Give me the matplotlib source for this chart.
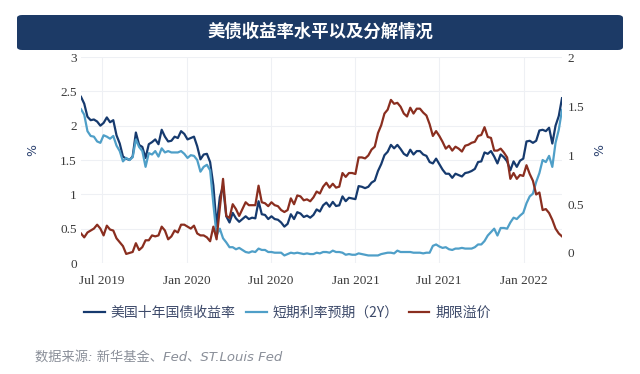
import matplotlib.pyplot as plt
import matplotlib.dates as mdates
from matplotlib.patches import FancyBboxPatch
import pandas as pd
import numpy as np

# weekly (Friday) observations, May 2019 - Mar 2022
weeks = pd.date_range("2019-05-17", "2022-03-25", freq="W-FRI")

# 美国十年国债收益率 (left axis, %)
ust_10y = [
    # 2019
    2.42, 2.32, 2.13, 2.08, 2.09, 2.06, 2.00, 2.04, 2.12, 2.05, 2.08,
    1.86, 1.74, 1.55, 1.52, 1.50, 1.55, 1.90, 1.72, 1.69, 1.53, 1.73,
    1.76, 1.80, 1.73, 1.94, 1.84, 1.77, 1.78, 1.84, 1.82, 1.92, 1.88,
    # 2020
    1.80, 1.82, 1.84, 1.70, 1.51, 1.58, 1.59, 1.47, 1.13, 0.54, 0.96,
    1.12, 0.68, 0.59, 0.73, 0.65, 0.60, 0.64, 0.68, 0.64, 0.66, 0.65,
    0.90, 0.71, 0.70, 0.64, 0.68, 0.64, 0.63, 0.59, 0.53, 0.57, 0.71,
    0.64, 0.74, 0.72, 0.67, 0.69, 0.66, 0.70, 0.78, 0.75, 0.84, 0.88,
    0.82, 0.89, 0.83, 0.84, 0.97, 0.90, 0.95, 0.94,
    # 2021
    0.93, 1.12, 1.11, 1.09, 1.11, 1.17, 1.20, 1.34, 1.44, 1.57, 1.62,
    1.72, 1.67, 1.72, 1.66, 1.59, 1.56, 1.65, 1.58, 1.63, 1.63, 1.58,
    1.56, 1.47, 1.45, 1.52, 1.44, 1.36, 1.30, 1.30, 1.24, 1.30, 1.28,
    1.26, 1.31, 1.32, 1.34, 1.37, 1.47, 1.48, 1.61, 1.59, 1.63, 1.55,
    1.45, 1.58, 1.54, 1.48, 1.35, 1.48, 1.40, 1.49, 1.52,
    # 2022
    1.77, 1.78, 1.75, 1.78, 1.93, 1.94, 1.92, 1.97, 1.74, 2.00, 2.14, 2.40,
]

# 短期利率预期（2Y） (left axis, %)
short_rate_2y = [
    # 2019
    2.24, 2.16, 1.92, 1.85, 1.84, 1.77, 1.75, 1.86, 1.84, 1.81, 1.85,
    1.71, 1.63, 1.48, 1.53, 1.50, 1.54, 1.80, 1.69, 1.63, 1.40, 1.60,
    1.58, 1.63, 1.55, 1.67, 1.61, 1.63, 1.61, 1.61, 1.61, 1.63, 1.59,
    # 2020
    1.53, 1.57, 1.56, 1.50, 1.33, 1.40, 1.43, 1.35, 0.86, 0.40, 0.50,
    0.36, 0.30, 0.23, 0.23, 0.20, 0.22, 0.19, 0.16, 0.15, 0.17, 0.16,
    0.21, 0.19, 0.19, 0.16, 0.16, 0.15, 0.15, 0.15, 0.11, 0.13, 0.15,
    0.14, 0.15, 0.14, 0.13, 0.14, 0.13, 0.13, 0.15, 0.14, 0.16, 0.16,
    0.15, 0.18, 0.16, 0.16, 0.15, 0.12, 0.13, 0.12,
    # 2021
    0.12, 0.14, 0.13, 0.12, 0.11, 0.11, 0.11, 0.11, 0.13, 0.14, 0.15,
    0.15, 0.14, 0.18, 0.16, 0.16, 0.16, 0.16, 0.15, 0.15, 0.15, 0.14,
    0.15, 0.15, 0.25, 0.27, 0.24, 0.22, 0.23, 0.20, 0.19, 0.21, 0.21,
    0.22, 0.21, 0.21, 0.21, 0.23, 0.27, 0.27, 0.32, 0.40, 0.45, 0.50,
    0.40, 0.51, 0.51, 0.50, 0.59, 0.66, 0.64, 0.69, 0.73,
    # 2022
    0.87, 0.97, 1.01, 1.18, 1.31, 1.50, 1.47, 1.56, 1.40, 1.75, 1.94, 2.23,
]

# 期限溢价 (right axis, %)
term_premium = [
    # 2019
    0.20, 0.16, 0.21, 0.23, 0.25, 0.29, 0.25, 0.18, 0.28, 0.24, 0.23,
    0.15, 0.11, 0.07, -0.01, 0.00, 0.01, 0.10, 0.03, 0.06, 0.13, 0.13,
    0.18, 0.17, 0.18, 0.27, 0.23, 0.14, 0.17, 0.23, 0.21, 0.29, 0.29,
    # 2020
    0.27, 0.25, 0.28, 0.20, 0.18, 0.18, 0.16, 0.12, 0.27, 0.14, 0.46,
    0.76, 0.38, 0.36, 0.50, 0.45, 0.38, 0.45, 0.52, 0.49, 0.49, 0.49,
    0.69, 0.52, 0.51, 0.48, 0.52, 0.49, 0.48, 0.44, 0.42, 0.44, 0.56,
    0.50, 0.59, 0.58, 0.54, 0.55, 0.53, 0.57, 0.63, 0.61, 0.68, 0.72,
    0.67, 0.71, 0.67, 0.68, 0.82, 0.78, 0.82, 0.82,
    # 2021
    0.81, 0.98, 0.98, 0.97, 1.00, 1.06, 1.09, 1.23, 1.31, 1.43, 1.47,
    1.57, 1.53, 1.54, 1.50, 1.43, 1.40, 1.49, 1.43, 1.48, 1.48, 1.44,
    1.41, 1.32, 1.20, 1.25, 1.20, 1.14, 1.07, 1.10, 1.05, 1.09, 1.07,
    1.04, 1.10, 1.11, 1.13, 1.14, 1.20, 1.21, 1.29, 1.19, 1.18, 1.05,
    1.05, 1.07, 1.03, 0.98, 0.76, 0.82, 0.76, 0.80, 0.79,
    # 2022
    0.90, 0.81, 0.74, 0.60, 0.62, 0.44, 0.45, 0.41, 0.34, 0.25, 0.20, 0.17,
]

left_ticks = [0, 0.5, 1, 1.5, 2, 2.5, 3]
right_ticks = [0, 0.5, 1, 1.5, 2]
x_ticks = ["2019-07-01", "2020-01-01", "2020-07-01", "2021-01-01", "2021-07-01", "2022-01-01"]
series_names = ["美国十年国债收益率", "短期利率预期（2Y）", "期限溢价"]
colors = ["#163a6e", "#4f9fc8", "#8a2e1f"]

W, H = 640, 374
fig = plt.figure(figsize=(6.4, 3.74), dpi=100)

# title banner
banner = FancyBboxPatch((17 / W, 1 - 50 / H), 606 / W, 35 / H,
                        boxstyle="round,pad=0,rounding_size=0.008",
                        transform=fig.transFigure, fc="#1c3a66", ec="none")
fig.add_artist(banner)
fig.text(0.5, 1 - 32 / H, "美债收益率水平以及分解情况", color="white",
         fontsize=12.5, fontweight="bold", family="Noto Sans CJK SC",
         ha="center", va="center")

ax = fig.add_axes([81 / W, 1 - 263 / H, 481 / W, 206 / H])
ax2 = ax.twinx()

l1, = ax.plot(weeks, ust_10y, color=colors[0], lw=1.6)
l2, = ax.plot(weeks, short_rate_2y, color=colors[1], lw=1.6)
l3, = ax2.plot(weeks, term_premium, color=colors[2], lw=1.6)

ax.set_xlim(weeks[0], weeks[-1])
ax.set_ylim(0, 3)
ax2.set_ylim(-0.103, 2.01)

tick_font = dict(family="Liberation Serif", size=9.5, color="#3a3a3a")
ax.set_yticks(left_ticks)
ax.set_yticklabels([f"{t:g}" for t in left_ticks], **tick_font)
ax2.set_yticks(right_ticks)
ax2.set_yticklabels([f"{t:g}" for t in right_ticks], **tick_font)
ax.set_xticks(pd.to_datetime(x_ticks))
ax.xaxis.set_major_formatter(mdates.DateFormatter("%b %Y"))
for lab in ax.get_xticklabels():
    lab.set_fontfamily("Liberation Serif")
    lab.set_fontsize(9.5)
    lab.set_color("#3a3a3a")

ax.tick_params(axis="x", length=0, pad=9)
ax.tick_params(axis="y", length=0, pad=3)
ax2.tick_params(axis="y", length=0, pad=4)

ax.grid(True, color="#eef0f4", lw=0.8)
ax.set_axisbelow(True)
for a in (ax, ax2):
    for s in a.spines.values():
        s.set_visible(False)

fig.text(33 / W, 1 - 150 / H, "%", rotation=90, color="#2c4270",
         fontsize=9, ha="center", va="center")
fig.text(600 / W, 1 - 150 / H, "%", rotation=90, color="#2c4270",
         fontsize=9, ha="center", va="center")

fig.legend([l1, l2, l3], series_names, loc="center left",
           bbox_to_anchor=(84 / W, 1 - 313 / H), ncol=3, frameon=False,
           prop={"family": "Noto Sans CJK SC", "size": 10},
           labelcolor="#3d4a6a", handlelength=1.5, handletextpad=0.4,
           columnspacing=0.75, borderpad=0, borderaxespad=0)

fig.text(35 / W, 1 - 357 / H, "数据来源: 新华基金、Fed、ST.Louis Fed",
         family=["DejaVu Sans", "Noto Sans CJK SC"], style="italic",
         fontsize=9.5, color="#8a8f99", ha="left", va="center")

fig.savefig("out.png", dpi=100, facecolor="white")
